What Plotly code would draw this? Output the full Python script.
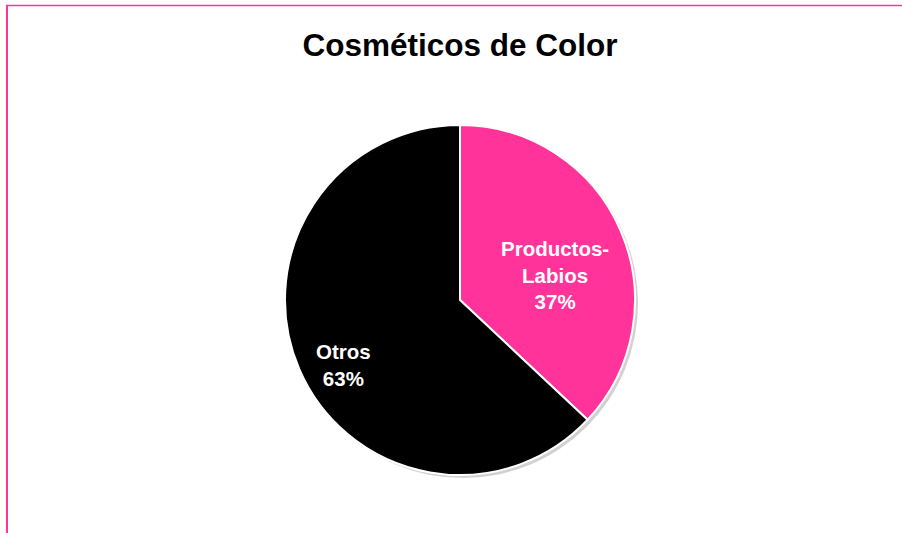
import plotly.graph_objects as go

labels = ["Productos-Labios", "Otros"]
label_text = ["Productos-<br>Labios", "Otros"]
values = [37, 63]
colors = ["#FF3399", "#000000"]
title_text = "Cosméticos de Color"

W, H = 902, 533
total = sum(values)
pcts = [f"{round(100 * v / total)}%" for v in values]

# pie geometry (pixels)
cx, cy, r = 460, 300, 175
dom_x = [(cx - 200) / W, (cx + 200) / W]
dom_y = [(H - cy - r) / H, (H - cy + r) / H]

fig = go.Figure()
# soft shadow
fig.add_trace(go.Pie(
    values=[total], marker=dict(colors=["rgba(0,0,0,0.18)"], line=dict(width=0)),
    textinfo="none", hoverinfo="skip", showlegend=False, sort=False,
    domain=dict(x=[dom_x[0] + 3 / W, dom_x[1] + 3 / W], y=[dom_y[0] - 3 / H, dom_y[1] - 3 / H]),
))
fig.add_trace(go.Pie(
    labels=labels, values=values,
    marker=dict(colors=colors, line=dict(color="white", width=2)),
    sort=False, direction="clockwise", rotation=0,
    textinfo="none",
    hoverinfo="label+percent",
    showlegend=False,
    domain=dict(x=dom_x, y=dom_y),
))

# label positions (pixels)
label_pos = [(555, 275), (343, 365)]
annotations = []
for t, p, (lx, ly) in zip(label_text, pcts, label_pos):
    annotations.append(dict(
        text=f"<b>{t}<br>{p}</b>", x=lx / W, y=1 - ly / H, xref="paper", yref="paper",
        showarrow=False, xanchor="center", yanchor="middle",
        font=dict(family="Liberation Sans, Arial", size=20.5, color="white"),
    ))

fig.update_layout(
    width=W, height=H,
    margin=dict(l=0, r=0, t=0, b=0),
    paper_bgcolor="white", plot_bgcolor="white",
    title=dict(text="<b>" + title_text + "</b>", x=460 / W, xanchor="center",
               y=1 - 45 / H, yanchor="middle",
               font=dict(family="Liberation Sans, Arial", size=31.5, color="black")),
    annotations=annotations,
    shapes=[
        dict(type="line", xref="paper", yref="paper", x0=7 / W, x1=7 / W, y0=0, y1=1 - 5 / H,
             line=dict(color="#FF3399", width=2)),
        dict(type="line", xref="paper", yref="paper", x0=6 / W, x1=1, y0=1 - 5.5 / H, y1=1 - 5.5 / H,
             line=dict(color="#FF3399", width=1.5)),
    ],
)
fig.write_html("out.html", config={"displayModeBar": False},
               post_script="document.body.style.margin='0';document.body.style.overflow='hidden';")
